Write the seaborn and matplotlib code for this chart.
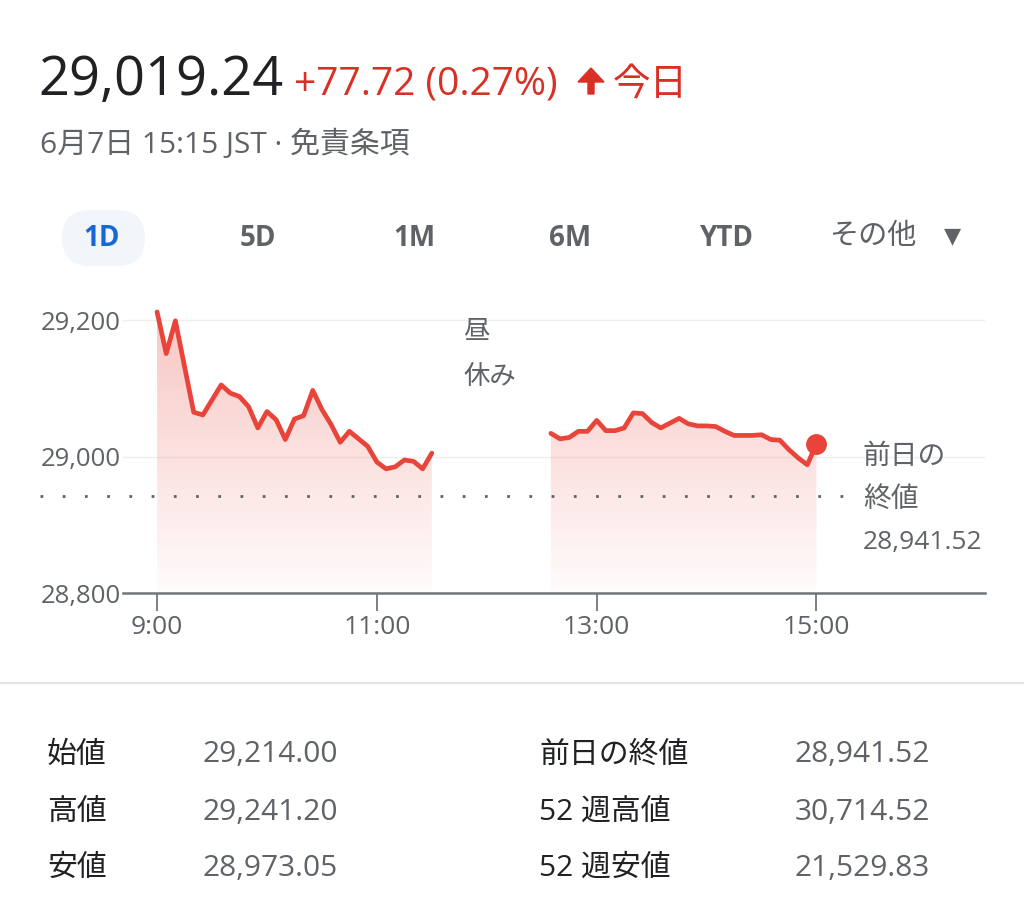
import numpy as np
import pandas as pd
import matplotlib
matplotlib.use('Agg')
import matplotlib.pyplot as plt
import matplotlib.patches as mpatches
from matplotlib.transforms import IdentityTransform
import seaborn as sns

# price data, 5 minute bars (morning / afternoon sessions)
am_times = ['9:00', '9:05', '9:10', '9:15', '9:20', '9:25', '9:30', '9:35', '9:40', '9:45',
            '9:50', '9:55', '10:00', '10:05', '10:10', '10:15', '10:20', '10:25', '10:30',
            '10:35', '10:40', '10:45', '10:50', '10:55', '11:00', '11:05', '11:10', '11:15',
            '11:20', '11:25', '11:30']
am_prices = [29212, 29151, 29199, 29132, 29065, 29061, 29083, 29105, 29093, 29088,
             29073, 29042, 29066, 29054, 29025, 29055, 29060, 29097, 29069,
             29047, 29021, 29037, 29026, 29015, 28992, 28982, 28985, 28995,
             28993, 28982, 29005]
pm_times = ['12:35', '12:40', '12:45', '12:50', '12:55', '13:00', '13:05', '13:10', '13:15',
            '13:20', '13:25', '13:30', '13:35', '13:40', '13:45', '13:50', '13:55', '14:00',
            '14:05', '14:10', '14:15', '14:20', '14:25', '14:30', '14:35', '14:40', '14:45',
            '14:50', '14:55', '15:00']
pm_prices = [29034, 29026, 29028, 29037, 29037, 29053, 29038, 29038, 29042,
             29064, 29063, 29050, 29042, 29049, 29056, 29048, 29045, 29045,
             29044, 29037, 29031, 29031, 29031, 29032, 29025, 29024, 29010,
             28998, 28988, 29019]
prev_close = 28941.52

xtick_labels = ['9:00', '11:00', '13:00', '15:00']
ytick_vals = [28800, 29000, 29200]

stat_left = [('始値', '29,214.00'), ('高値', '29,241.20'), ('安値', '28,973.05')]
stat_right = [('前日の終値', '28,941.52'), ('52 週高値', '30,714.52'), ('52 週安値', '21,529.83')]
tabs = ['1D', '5D', '1M', '6M', 'YTD']


def to_min(s):
    h, m = s.split(':')
    return (int(h) - 9) * 60 + int(m)


df = pd.DataFrame({
    't': [to_min(s) for s in am_times + pm_times],
    'price': am_prices + pm_prices,
    'session': ['am'] * len(am_times) + ['pm'] * len(pm_times),
})

RED = '#e8443a'
GRAY = '#5f6368'
W, H = 1024, 923

sns.set_theme(style='white')
plt.rcParams['font.family'] = ['Open Sans', 'Noto Sans CJK JP', 'DejaVu Sans']

fig = plt.figure(figsize=(W / 100, H / 100), dpi=100)
fig.patch.set_facecolor('white')


def fx(x):
    return x / W


def fy(y):
    return 1 - y / H


# header
fig.text(fx(38), fy(95), '29,019.24', fontsize=39, color='#202124', va='baseline')
fig.text(fx(294), fy(95), '+77.72 (0.27%)', fontsize=28, color='#d93025', va='baseline')
arrow = mpatches.FancyArrow(591, H - 94, 0, 26, width=6, head_width=26, head_length=14,
                            length_includes_head=True, color='#d93025', transform=IdentityTransform())
fig.patches.append(arrow)
fig.text(fx(613), fy(95), '今日', fontsize=27, color='#d93025', va='baseline')
fig.text(fx(40), fy(153), '6月7日 15:15 JST · 免責条項', fontsize=21.5, color=GRAY, va='baseline')

# range tabs
pill = mpatches.FancyBboxPatch((62, H - 266), 83, 56, boxstyle='round,pad=0,rounding_size=28',
                               facecolor='#f2f5fa', edgecolor='none', transform=IdentityTransform())
fig.patches.append(pill)
for lab, cx in zip(tabs, [102, 258, 414, 570, 727]):
    fig.text(fx(cx), fy(238), lab, fontsize=20, fontweight='bold',
             color='#1967d2' if lab == '1D' else GRAY, ha='center', va='center')
fig.text(fx(829), fy(237), 'その他', fontsize=21, color=GRAY, va='center')
fig.text(fx(953), fy(236), '▼', fontsize=16, color=GRAY, ha='center', va='center',
         family='DejaVu Sans')

# chart
ax = fig.add_axes([fx(123), fy(593), 862 / W, (593 - 299) / H])
ymin, ymax = 28800, 29231
xmin, xmax = -18.6, 452
ax.set_xlim(xmin, xmax)
ax.set_ylim(ymin, ymax)

for sess, g in df.groupby('session'):
    verts = [(g['t'].iloc[0], ymin)] + list(zip(g['t'], g['price'])) + [(g['t'].iloc[-1], ymin)]
    poly = mpatches.Polygon(verts, closed=True, facecolor='none', edgecolor='none')
    ax.add_patch(poly)
    grad = np.zeros((256, 1, 4))
    grad[..., 0], grad[..., 1], grad[..., 2] = 0.91, 0.27, 0.23
    grad[:, 0, 3] = np.linspace(0.32, 0.02, 256)
    im = ax.imshow(grad, extent=[xmin, xmax, ymin, ymax], origin='upper',
                   aspect='auto', zorder=1, interpolation='bilinear')
    im.set_clip_path(poly)

ax.plot([-64, 377.5], [prev_close, prev_close], color=GRAY, lw=2,
        linestyle=(0, (1, 7)), clip_on=False, zorder=2)

sns.lineplot(data=df, x='t', y='price', units='session', estimator=None,
             color=RED, lw=3.4, ax=ax, zorder=3)
last = df.iloc[-1]
ax.plot(last['t'], last['price'], 'o', ms=14, color=RED, zorder=4)

ax.set_xticks([to_min(s) for s in xtick_labels])
ax.set_xticklabels(xtick_labels)
ax.set_yticks(ytick_vals)
ax.set_yticklabels([f'{v:,}' for v in ytick_vals])
ax.set_xlabel('')
ax.set_ylabel('')
ax.yaxis.grid(True, color='#eeeeee', lw=1)
ax.set_axisbelow(True)
for s in ['top', 'right', 'left']:
    ax.spines[s].set_visible(False)
ax.spines['bottom'].set_color('#70757a')
ax.spines['bottom'].set_linewidth(1.8)
ax.tick_params(axis='x', direction='out', length=13, width=1.3, color='#70757a',
               pad=3, labelsize=19, labelcolor=GRAY, bottom=True)
ax.tick_params(axis='y', length=0, pad=1.5, labelsize=18.5, labelcolor=GRAY)

fig.text(fx(463), fy(333), '昼', fontsize=19, color=GRAY, va='center')
fig.text(fx(463), fy(378), '休み', fontsize=19, color=GRAY, va='center')
fig.text(fx(863), fy(457), '前日の', fontsize=20, color=GRAY, va='center')
fig.text(fx(863), fy(500), '終値', fontsize=20, color=GRAY, va='center')
fig.text(fx(863), fy(542), f'{prev_close:,.2f}', fontsize=19, color=GRAY, va='center')

# divider + stats table
fig.add_artist(plt.Line2D([0, 1], [fy(683), fy(683)], color='#e3e3e3', lw=1.5,
                          transform=fig.transFigure))
for i, y in enumerate([755, 812, 868]):
    fig.text(fx(47), fy(y), stat_left[i][0], fontsize=21.5, color='#202124', va='center')
    fig.text(fx(203), fy(y), stat_left[i][1], fontsize=21.5, color=GRAY, va='center')
    fig.text(fx(539), fy(y), stat_right[i][0], fontsize=21.5, color='#202124', va='center')
    fig.text(fx(795), fy(y), stat_right[i][1], fontsize=21.5, color=GRAY, va='center')

fig.savefig('out.png', dpi=100)
